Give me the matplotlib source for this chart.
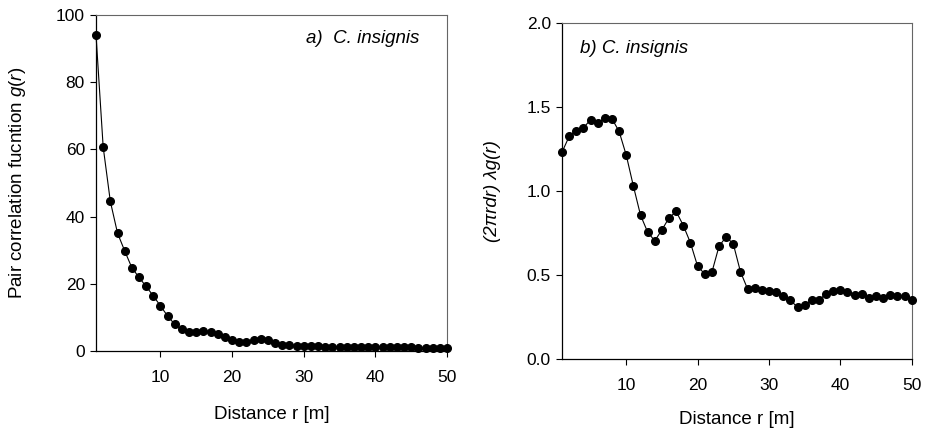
import numpy as np
import matplotlib
matplotlib.use("Agg")
import matplotlib.pyplot as plt

plt.rcParams['font.family'] = ['Liberation Sans', 'DejaVu Sans']
plt.rcParams['mathtext.fontset'] = 'custom'
plt.rcParams['mathtext.it'] = 'Liberation Sans:italic'
plt.rcParams['mathtext.rm'] = 'Liberation Sans'

# --- data ---
r = np.arange(1, 51)
g_r = [94.0, 60.7, 44.5, 35.1, 29.8, 24.8, 21.9, 19.2, 16.4, 13.4,
       10.4, 7.9, 6.4, 5.6, 5.8, 5.9, 5.8, 5.1, 4.3, 3.3,
       2.8, 2.6, 3.4, 3.6, 3.2, 2.3, 1.8, 1.7, 1.6, 1.6,
       1.4, 1.4, 1.3, 1.2, 1.2, 1.2, 1.2, 1.2, 1.2, 1.2,
       1.2, 1.1, 1.1, 1.1, 1.1, 1.0, 1.0, 1.0, 1.0, 1.0]
lam_g = [1.231, 1.325, 1.358, 1.376, 1.424, 1.406, 1.432, 1.430, 1.354, 1.213,
         1.029, 0.856, 0.755, 0.703, 0.769, 0.840, 0.878, 0.794, 0.691, 0.552,
         0.506, 0.516, 0.671, 0.727, 0.685, 0.520, 0.417, 0.425, 0.409, 0.405,
         0.397, 0.373, 0.350, 0.308, 0.322, 0.350, 0.354, 0.385, 0.405, 0.411,
         0.399, 0.381, 0.389, 0.365, 0.373, 0.361, 0.381, 0.373, 0.373, 0.354]
xticks = [10, 20, 30, 40, 50]

TICK_FS = 12.5
LAB_FS = 13.5

fig = plt.figure(figsize=(9.25, 4.37), dpi=100)
ax1 = fig.add_axes([0.1038, 0.1968, 0.3795, 0.769])
ax2 = fig.add_axes([0.6076, 0.1785, 0.378, 0.769])


def style(ax, lpad):
    ax.set_xlim(1, 50)
    ax.set_xticks(xticks)
    ax.tick_params(direction='out', length=4, width=0.8, labelsize=TICK_FS,
                   top=False, right=False)
    ax.tick_params(axis='x', pad=10)
    ax.tick_params(axis='y', pad=4)
    for s in ['top', 'right']:
        ax.spines[s].set_color('#666666')
        ax.spines[s].set_linewidth(0.8)
    for s in ['left', 'bottom']:
        ax.spines[s].set_linewidth(0.9)
    ax.set_xlabel('Distance r [m]', fontsize=LAB_FS, labelpad=lpad)


# --- a) ---
ax1.plot(r, g_r, '-o', color='black', lw=0.8, ms=5.5, clip_on=False, zorder=3)
ax1.set_ylim(0, 100)
ax1.set_yticks([0, 20, 40, 60, 80, 100])
style(ax1, 15)
ax1.set_ylabel('Pair correlation fucntion $\\mathit{g}$($\\mathit{r}$)', fontsize=LAB_FS)
ax1.yaxis.set_label_coords(-0.195, 0.5)
ax1.text(0.92, 0.93, 'a)  C. insignis', transform=ax1.transAxes, ha='right', va='center',
         fontsize=LAB_FS, style='italic')

# --- b) ---
ax2.plot(r, lam_g, '-o', color='black', lw=0.8, ms=5.5, clip_on=False, zorder=3)
ax2.set_ylim(0, 2.0)
ax2.set_yticks([0.0, 0.5, 1.0, 1.5, 2.0])
ax2.set_yticklabels(['0.0', '0.5', '1.0', '1.5', '2.0'])
style(ax2, 13)
ax2.set_ylabel('(2πrdr) λg(r)', fontsize=LAB_FS, style='italic')
ax2.yaxis.set_label_coords(-0.175, 0.5)
ax2.text(0.05, 0.925, 'b) C. insignis', transform=ax2.transAxes, ha='left', va='center',
         fontsize=LAB_FS, style='italic')

fig.savefig('out.png', dpi=100)
